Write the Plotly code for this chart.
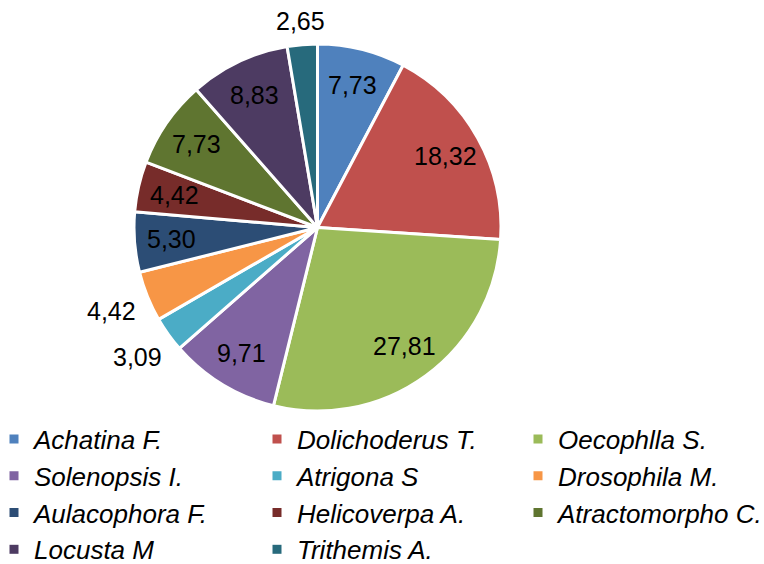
import math
import plotly.graph_objects as go

species = ["Achatina F.", "Dolichoderus T.", "Oecophlla S.", "Solenopsis I.", "Atrigona S",
           "Drosophila M.", "Aulacophora F.", "Helicoverpa A.", "Atractomorpho C.", "Locusta M",
           "Trithemis A."]
values = [7.73, 18.32, 27.81, 9.71, 3.09, 4.42, 5.30, 4.42, 7.73, 8.83, 2.65]
colors = ["#4F81BD", "#C0504D", "#9BBB59", "#8064A2", "#4BACC6", "#F79646",
          "#2C4D75", "#772C2A", "#5F7530", "#4D3B62", "#276A7C"]
outside = [False, False, False, False, True, True, False, False, False, False, True]

W, H = 764, 564
cx, cy, R = 317.5, 227.5, 183.5          # pie centre / radius in px
FONT = "Liberation Sans, Arial"

fig = go.Figure(go.Pie(
    labels=species,
    values=values,
    sort=False,
    direction="clockwise",
    rotation=0,
    marker=dict(colors=colors, line=dict(color="white", width=3)),
    textinfo="none",
    hoverinfo="label+value",
    domain=dict(x=[(cx - R) / W, (cx + R) / W], y=[1 - (cy + R) / H, 1 - (cy - R) / H]),
    automargin=False,
    showlegend=False,
))

# data labels (Excel "best fit" style), placed at each slice's mid angle
total = sum(values)
cum = 0.0
for v, out in zip(values, outside):
    theta = 2 * math.pi * (cum + v / 2) / total
    cum += v
    s, c = math.sin(theta), math.cos(theta)
    if out:
        d = R + 8 + 28 * abs(s) + 13 * abs(c)
    else:
        d = 0.8 * R
    px, py = cx + d * s, cy - d * c
    fig.add_annotation(
        x=px / W, y=1 - py / H, xref="paper", yref="paper",
        text=f"{v:.2f}".replace(".", ","), showarrow=False,
        font=dict(family=FONT, size=25, color="black"),
        xanchor="center", yanchor="middle",
    )

# legend entries (3 columns, row-wise order as in the reference)
legend_ids = ["legend", "legend2", "legend3"]
for i, (name, col) in enumerate(zip(species, colors)):
    fig.add_trace(go.Scatter(
        x=[None], y=[None], mode="markers", name=name,
        marker=dict(symbol="square", size=9, color=col),
        legend=legend_ids[i % 3], legendgroup=name, hoverinfo="skip",
    ))

col_left = [9, 272, 533]
leg_common = dict(
    orientation="v", xanchor="left", yanchor="top",
    y=1 - 415.5 / H,
    font=dict(family=FONT, size=26, style="italic", color="black"),
    indentation=-15, itemwidth=30, tracegroupgap=0,
    traceorder="grouped", bgcolor="rgba(0,0,0,0)",
)
fig.update_layout(
    width=W, height=H,
    margin=dict(l=0, r=0, t=0, b=0, autoexpand=False),
    paper_bgcolor="white",
    plot_bgcolor="white",
    font=dict(family=FONT, size=25, color="black"),
    showlegend=True,
    xaxis=dict(visible=False),
    yaxis=dict(visible=False),
    legend=dict(x=col_left[0] / W, **leg_common),
    legend2=dict(x=col_left[1] / W, **leg_common),
    legend3=dict(x=col_left[2] / W, **leg_common),
)

fig.write_html("out.html", config={"displayModeBar": False},
               post_script="document.body.style.margin='0';")
